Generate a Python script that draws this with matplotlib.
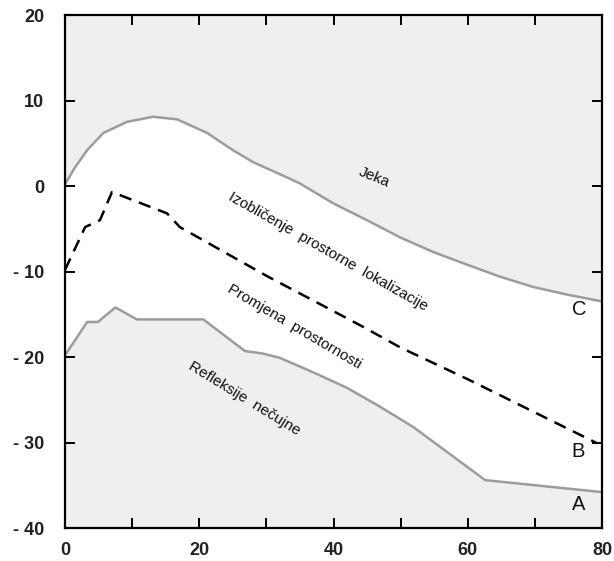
import matplotlib
matplotlib.use("Agg")
import matplotlib.pyplot as plt

plt.rcParams['font.family'] = ['Liberation Sans', 'DejaVu Sans']

# Curve C - echo threshold (Jeka)
c_x = [0.0, 1.5, 3.3, 5.7, 9.2, 13.1, 16.7, 21.2, 25.0, 28.0, 33.1, 35.0,
       39.9, 45.0, 49.9, 54.8, 59.9, 64.8, 69.7, 74.8, 80.0]
c_y = [0.2, 2.2, 4.2, 6.2, 7.5, 8.1, 7.8, 6.2, 4.2, 2.8, 1.0, 0.3,
       -2.0, -4.0, -6.0, -7.7, -9.2, -10.6, -11.8, -12.7, -13.5]

# Curve B - change of spatial impression (dashed)
b_x = [0.0, 3.0, 5.2, 7.0, 15.2, 17.1, 30.0, 44.0, 50.0, 60.0, 79.3]
b_y = [-9.8, -4.8, -4.0, -0.7, -3.2, -4.8, -10.5, -16.3, -18.9, -22.6, -30.1]

# Curve A - threshold of audibility of reflections
a_x = [0.0, 3.3, 4.9, 7.5, 10.7, 20.6, 26.8, 29.5, 32.0, 37.0, 42.0, 46.9,
       51.9, 56.9, 62.6, 80.0]
a_y = [-19.8, -15.9, -15.9, -14.2, -15.6, -15.6, -19.3, -19.6, -20.1, -21.8,
       -23.6, -25.8, -28.2, -31.1, -34.4, -35.8]

x_ticks = [0, 10, 20, 30, 40, 50, 60, 70, 80]
x_ticklabels = ['0', '', '20', '', '40', '', '60', '', '80']
y_ticks = [20, 10, 0, -10, -20, -30, -40]
y_ticklabels = ['20', '10', '0', '- 10', '- 20', '- 30', '- 40']

region_labels = ['Jeka', 'Izobličenje  prostorne  lokalizacije',
                 'Promjena  prostornosti', 'Refleksije  nečujne']
region_pos = [(46.0, 1.0), (39.2, -7.7), (34.1, -16.4), (26.7, -24.8)]
region_rot = [-22, -29.5, -30.5, -31.5]

curve_names = ['C', 'B', 'A']
curve_name_pos = [(76.6, -14.4), (76.5, -31.1), (76.5, -37.3)]

fig = plt.figure(figsize=(6.14, 5.61), dpi=100)
ax = fig.add_axes([0.1059, 0.0588, 0.8746, 0.9144])
ax.set_xlim(0, 80)
ax.set_ylim(-40, 20)

shade = '#efefef'
curve_grey = '#9c9c9c'

ax.fill_between(c_x, c_y, 20, color=shade, lw=0, zorder=1)
ax.fill_between(a_x, a_y, -40, color=shade, lw=0, zorder=1)

ax.plot(c_x, c_y, color=curve_grey, lw=1.8, zorder=2)
ax.plot(a_x, a_y, color=curve_grey, lw=1.8, zorder=2)
ax.plot(b_x, b_y, color='black', lw=1.8, dashes=(5, 3.2), zorder=3)

for txt, (tx, ty), rot in zip(region_labels, region_pos, region_rot):
    ax.text(tx, ty, txt, rotation=rot, rotation_mode='anchor',
            ha='center', va='center', fontsize=11, color='#111111', zorder=4)

for txt, (tx, ty) in zip(curve_names, curve_name_pos):
    ax.text(tx, ty, txt, ha='center', va='center', fontsize=14.5,
            color='#111111', zorder=4)

ax.set_xticks(x_ticks)
ax.set_xticklabels(x_ticklabels)
ax.set_yticks(y_ticks)
ax.set_yticklabels(y_ticklabels)
ax.tick_params(axis='both', direction='in', length=7, width=1.4,
               labelsize=13, colors='black')
ax.tick_params(axis='x', top=True, bottom=True, pad=10)
ax.tick_params(axis='y', left=True, right=True, pad=15)
for lbl in ax.get_xticklabels() + ax.get_yticklabels():
    lbl.set_fontweight('bold')
    lbl.set_color('#222222')

for sp in ax.spines.values():
    sp.set_linewidth(1.6)
    sp.set_color('black')

fig.savefig('out.png', dpi=100, facecolor='white')
